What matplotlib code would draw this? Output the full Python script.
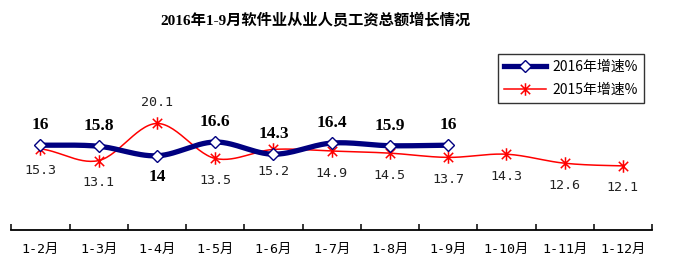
import numpy as np
import matplotlib
matplotlib.use("Agg")
import matplotlib.pyplot as plt
from matplotlib.path import Path

# data
months = ["1-2月", "1-3月", "1-4月", "1-5月", "1-6月", "1-7月",
          "1-8月", "1-9月", "1-10月", "1-11月", "1-12月"]
growth_2016 = [16, 15.8, 14, 16.6, 14.3, 16.4, 15.9, 16]
growth_2015 = [15.3, 13.1, 20.1, 13.5, 15.2, 14.9, 14.5, 13.7, 14.3, 12.6, 12.1]
# whether the 2016 label goes above (True) or below the point
above_2016 = [True, True, False, True, True, True, True, True]

CJK = ['Noto Sans CJK SC', 'DejaVu Sans']
MONO = ['DejaVu Sans Mono', 'Noto Sans CJK SC']
SERIF = ['Liberation Serif', 'Noto Sans CJK SC']


def smooth(y, n=30):
    # catmull-rom style smoothing, like the spreadsheet "smoothed line"
    y = np.asarray(y, float)
    x = np.arange(len(y), dtype=float)
    xs, ys = [], []
    for i in range(len(y) - 1):
        p0 = y[i - 1] if i > 0 else y[i]
        p3 = y[i + 2] if i + 2 < len(y) else y[i + 1]
        p1, p2 = y[i], y[i + 1]
        c1 = p1 + (p2 - p0) / 6
        c2 = p2 - (p3 - p1) / 6
        t = np.linspace(0, 1, n)
        b = ((1 - t) ** 3 * p1 + 3 * (1 - t) ** 2 * t * c1
             + 3 * (1 - t) * t ** 2 * c2 + t ** 3 * p2)
        xs.append(x[i] + t)
        ys.append(b)
    return np.concatenate(xs), np.concatenate(ys)


# asterisk marker: vertical stroke plus an X
star = Path([(0, -1), (0, 1), (-0.75, -0.75), (0.75, 0.75), (-0.75, 0.75), (0.75, -0.75)],
            [Path.MOVETO, Path.LINETO, Path.MOVETO, Path.LINETO, Path.MOVETO, Path.LINETO])

W, H = 674, 266
fig = plt.figure(figsize=(W / 100, H / 100), dpi=100)
left, right, bottom, top = 11.3, 652, 230, 40
ax = fig.add_axes([left / W, 1 - bottom / H, (right - left) / W, (bottom - top) / H])
px_per_unit = 5.3
ax.set_xlim(-0.5, len(months) - 0.5)
ax.set_ylim(0, (bottom - top) / px_per_unit)

navy = '#000080'
red = '#FF0000'

x15 = np.arange(len(growth_2015))
x16 = np.arange(len(growth_2016))

sx, sy = smooth(growth_2015)
ax.plot(sx, sy, color=red, lw=1.1, zorder=2)
ax.plot(x15, growth_2015, ls='none', marker=star, ms=9, mec=red, mew=1.1, zorder=3)

sx, sy = smooth(growth_2016)
ax.plot(sx, sy, color=navy, lw=3.8, zorder=4, solid_capstyle='butt')
ax.plot(x16, growth_2016, ls='none', marker='D', ms=6, mfc='white', mec=navy, mew=1.0, zorder=5)

for i, v in enumerate(growth_2015):
    up = (i == 2)
    ax.annotate(f"{v:g}", (i, v), xytext=(0, 21 if up else -22), textcoords='offset pixels',
                ha='center', va='center', fontsize=9.6, family=MONO, color='#222222')

for i, v in enumerate(growth_2016):
    ax.annotate(f"{v:g}", (i, v), xytext=(0, 20 if above_2016[i] else -21), textcoords='offset pixels',
                ha='center', va='center', fontsize=12.5, family=SERIF, fontweight='bold')

for s in ['top', 'left', 'right']:
    ax.spines[s].set_visible(False)
ax.spines['bottom'].set_linewidth(1.3)
ax.set_yticks([])
ax.set_xticks(np.arange(len(months)))
ax.set_xticklabels(months, family=MONO, fontsize=9.6)
ax.tick_params(axis='x', which='major', length=0, pad=9)
ax.set_xticks(np.arange(len(months) + 1) - 0.5, minor=True)
ax.tick_params(axis='x', which='minor', direction='in', length=4.5, width=1.1)

fig.text(315 / W, 1 - 21 / H, "2016年1-9月软件业从业人员工资总额增长情况",
         ha='center', va='center', fontsize=11, fontweight='bold', family=SERIF)

h16, = ax.plot([], [], color=navy, lw=3.8, marker='D', ms=6, mfc='white', mec=navy, mew=1.0)
h15, = ax.plot([], [], color=red, lw=1.1, marker=star, ms=9, mec=red, mew=1.1)
leg = fig.legend([h16, h15], ["2016年增速%", "2015年增速%"],
                 loc='upper left', bbox_to_anchor=(498 / W, 1 - 54 / H),
                 prop={'family': CJK, 'size': 10}, frameon=True, fancybox=False,
                 edgecolor='black', borderpad=0.45, handlelength=3.0, labelspacing=0.6,
                 handletextpad=0.5, borderaxespad=0)
leg.get_frame().set_linewidth(1.0)

fig.savefig("out.png", dpi=100)
